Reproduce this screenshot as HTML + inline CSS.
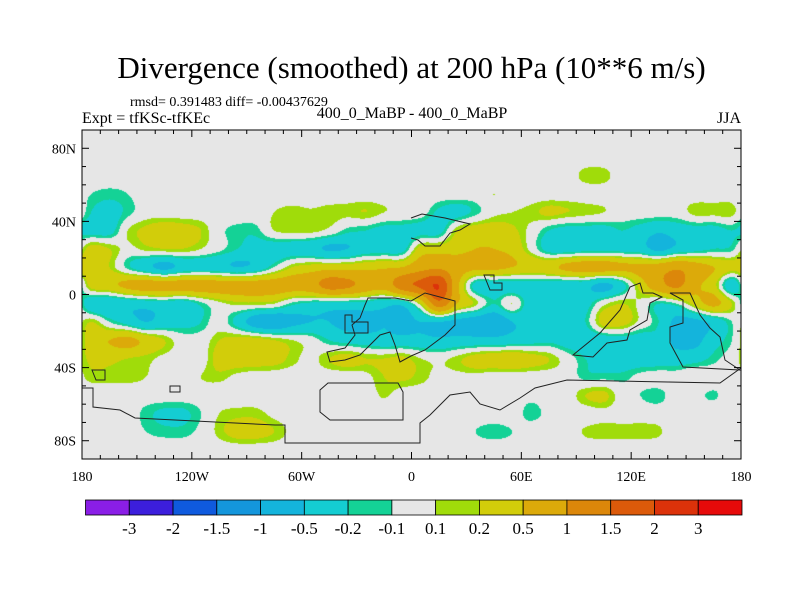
<!DOCTYPE html>
<html><head><meta charset="utf-8"><style>
body{margin:0;background:#fff;}
#wrap{position:relative;width:800px;height:600px;overflow:hidden;font-family:"Liberation Serif",serif;}
.t{position:absolute;white-space:nowrap;color:#000;}
</style></head><body>
<div id="wrap">
<div class="t" style="left:0;width:823px;text-align:center;top:50px;font-size:31px;">Divergence (smoothed) at 200 hPa (10**6 m/s)</div>
<div class="t" style="left:130px;top:95px;font-size:14px;">rmsd= 0.391483 diff= -0.00437629</div>
<div class="t" style="left:82px;top:110px;font-size:16px;">Expt = tfKSc-tfKEc</div>
<div class="t" style="left:312px;width:200px;text-align:center;top:105px;font-size:16px;">400_0_MaBP - 400_0_MaBP</div>
<div class="t" style="right:59px;top:110px;font-size:16px;">JJA</div>
<canvas id="map" width="659" height="329" style="position:absolute;left:82px;top:130px;"></canvas>
<svg id="svg" width="800" height="600" style="position:absolute;left:0;top:0;"></svg>
</div>
<script>
const lons=[-175,-165,-155,-145,-135,-125,-115,-105,-95,-85,-75,-65,-55,-45,-35,-25,-15,-5,5,15,25,35,45,55,65,75,85,95,105,115,125,135,145,155,165,175];
const lats=[85,75,65,55,45,35,25,15,5,-5,-15,-25,-35,-45,-55,-65,-75,-85];
const r85=[0,0,0,0,0,0,0,0,0,0,0,0,0,0,0,0,0,0, 0,0,0,0,0,0,0,0,0,0,0,0,0,0,0,0,0,0];
const r75=[0,0,0,0,0,0,0,0,0,0,0,0,0,0,0,0,0,0, 0,0,0,0,0,0,0,0,0,0,0,0,0,0,0,0,0,0];
const r65=[0,0,0,0,0,0,0,0,0,0,0,0,0,0,0,0,0,0, 0,0,0,0,0,0,0,0,0,0.15,0.15,0,0,0,0,0,0,0];
const r55=[-0.1,-0.15,-0.1,0,0,0,0,0,0,0,0,0,0,0,0,0,0,0, 0,0,0,0,0.1,0,0,0,0,0,0,0,0,0,0,0,0,0];
const r45=[-0.2,-0.3,-0.15,0,0,0,0,0,0,0,0.1,0.15,0.12,0.15,0.15,0.2,0.1,0.05, 0,-0.25,-0.3,-0.15,0.05,0.1,0.15,0.25,0.2,0.15,0.1,0,0,0,0,0.15,0.15,0.15];
const r35=[-0.3,-0.3,0.1,0.25,0.35,0.3,0.2,-0.05,-0.15,-0.15,0.1,0.15,0.15,0.05,-0.15,-0.2,-0.3,-0.3, -0.3,-0.3,0.2,0.35,0.35,0.25,0.05,-0.2,-0.3,-0.3,-0.3,-0.2,-0.3,-0.45,-0.35,-0.3,-0.3,-0.2];
const r25=[0.3,0.2,0.05,0.15,0.2,0.2,0.1,-0.05,-0.2,-0.3,-0.35,-0.35,-0.4,-0.55,-0.5,-0.35,-0.35,-0.3, 0.3,0.35,0.4,0.5,0.5,0.4,0.05,-0.3,-0.35,-0.3,-0.3,-0.3,-0.35,-0.6,-0.4,-0.3,-0.2,-0.15];
const r15=[0.35,0.2,-0.15,-0.4,-0.6,-0.4,-0.35,-0.4,-0.5,-0.4,-0.1,0.2,0.3,0.35,0.35,0.4,0.45,0.5, 0.8,0.9,0.7,0.6,0.6,0.5,0.4,0.4,0.6,0.7,0.7,0.6,0.6,0.7,0.9,0.7,0.5,0.3];
const r5=[0.3,0.4,0.6,0.7,0.7,0.7,0.7,0.7,0.7,0.7,0.7,0.7,0.8,1.2,1.1,0.8,0.7,1.3, 1.6,2.0,0.6,-0.3,-0.35,-0.35,-0.35,-0.35,-0.4,-0.4,-0.6,-0.3,0.3,0.8,1.1,0.6,0.3,-0.4];
const rm5=[-0.4,-0.45,-0.4,-0.35,-0.3,-0.35,-0.15,0.05,0.15,0.15,0.1,-0.15,-0.25,-0.3,-0.3,-0.3,-0.4,-0.4, 0.2,1.3,0.5,0.15,-0.2,0.1,-0.35,-0.35,-0.3,-0.3,0.05,0.2,0.05,-0.2,-0.1,0.3,0.6,0.2];
const rm15=[0.2,-0.1,-0.3,-0.5,-0.35,-0.3,-0.2,0,-0.3,-0.7,-0.8,-0.6,-0.5,-0.5,-0.6,-0.6,-0.5,-0.6, -0.5,-0.5,-0.6,-0.7,-0.8,-0.5,-0.45,-0.4,-0.4,-0.2,0.3,0.3,0.05,-0.2,-0.6,-0.6,-0.4,-0.1];
const rm25=[0.35,0.5,0.6,0.4,0.2,0,0,0.2,0.3,0.3,0.2,0.1,0,-0.2,-0.3,-0.35,-0.4,-0.4, -0.4,-0.45,-0.4,-0.4,-0.4,-0.35,-0.3,-0.25,-0.35,-0.4,-0.35,-0.3,-0.35,-0.3,-0.6,-0.6,-0.3,-0.1];
const rm35=[0.25,0.25,0.2,0.15,0.05,0,0,0.3,0.35,0.35,0.3,0.15,0.05,0.2,0.3,0.2,0.2,0.25, 0.1,0.05,0.15,0.3,0.35,0.4,0.3,0.2,0,-0.2,-0.3,-0.35,-0.35,-0.35,-0.35,-0.3,-0.15,0];
const rm45=[0.15,0.15,0.15,0.1,0,0,0.1,0.15,0.05,0,0,0,0,0,0,0.05,0.2,0.25, 0.15,0.05,0.05,0.05,0,0,0,0,0,-0.15,-0.15,-0.15,-0.05,0,0,0.08,0,0];
const rm55=[0,0,0,0,0,0,0,0,0,0,0,0,0,0,0,0,0.12,0, 0,0,0,0,0,0,-0.05,0,0,0.2,0.25,0,-0.1,-0.15,0,-0.05,-0.12,0];
const rm65=[0,0,0,-0.15,-0.25,-0.25,-0.1,0.1,0.15,0.15,0.05,0,0,0,0,0,0,0, 0,0,0,0,0,0,-0.15,-0.05,0,0,0.05,0,0,0,0,0,0,0];
const rm75=[0,0,0,-0.1,-0.15,-0.15,-0.05,0.15,0.3,0.3,0.2,0.05,0,0,0,0,0,0, 0,0,0,-0.1,-0.15,-0.1,0,0,0,0.12,0.15,0.15,0.15,0.12,0,0,0,0];
const rm85=[0,0,0,0,0,0,0,0,0,0,0,0,0,0,0,0,0,0, 0,0,0,0,0,0,0,0,0,0,0,0,0,0,0,0,0,0];
const grid=[r85,r75,r65,r55,r45,r35,r25,r15,r5,rm5,rm15,rm25,rm35,rm45,rm55,rm65,rm75,rm85];
const levels=[-3,-2,-1.5,-1,-0.5,-0.2,-0.1,0.1,0.2,0.5,1,1.5,2,3];
const levelLabels=["-3","-2","-1.5","-1","-0.5","-0.2","-0.1","0.1","0.2","0.5","1","1.5","2","3"];
const colors=["#8a1ee6","#3c1edc","#0f5ade","#1496dc","#14b4dc","#14cdd2","#14d296","#e6e6e6","#a0dc0a","#d2cd0a","#dcaa0a","#dc870a","#dc5a0a","#dc320a","#e60a0a"];
const xTickVals=[-180,-120,-60,0,60,120,180];
const xTickLabels=["180","120W","60W","0","60E","120E","180"];
const yTickVals=[80,40,0,-40,-80];
const yTickLabels=["80N","40N","0","40S","80S"];

const PL=82,PR=741,PT=130,PB=459;
const xS=lon=>PL+(lon+180)/360*(PR-PL);
const yS=lat=>PT+(90-lat)/180*(PB-PT);
function hex(c){return [parseInt(c.substr(1,2),16),parseInt(c.substr(3,2),16),parseInt(c.substr(5,2),16)];}
function cr(p0,p1,p2,p3,t){return 0.5*((2*p1)+(-p0+p2)*t+(2*p0-5*p1+4*p2-p3)*t*t+(-p0+3*p1-3*p2+p3)*t*t*t);}
(function(){
 const cv=document.getElementById('map');const ctx=cv.getContext('2d');
 const W=cv.width,H=cv.height;const img=ctx.createImageData(W,H);
 const nx=lons.length,ny=lats.length;
 const rgb=colors.map(hex);
 const G=(j,i)=>grid[Math.max(0,Math.min(ny-1,j))][(i%nx+nx)%nx];
 for(let py=0;py<H;py++){
  const lat=90-(py+0.5)/H*180;
  let fy=(lats[0]-lat)/10;fy=Math.max(0,Math.min(ny-1,fy));
  const j0=Math.min(ny-2,Math.floor(fy)),ty=fy-j0;
  for(let px=0;px<W;px++){
   const lon=-180+(px+0.5)/W*360;
   const fx=(lon-lons[0])/10;
   const i0=Math.floor(fx),tx=fx-i0;
   const rows=[];
   for(let dj=-1;dj<=2;dj++){const j=j0+dj;rows.push(cr(G(j,i0-1),G(j,i0),G(j,i0+1),G(j,i0+2),tx));}
   const v=cr(rows[0],rows[1],rows[2],rows[3],ty);
   let k=0;while(k<levels.length&&v>=levels[k])k++;
   const col=rgb[k];const o=(py*W+px)*4;
   img.data[o]=col[0];img.data[o+1]=col[1];img.data[o+2]=col[2];img.data[o+3]=255;
  }
 }
 ctx.putImageData(img,0,0);
})();
const svg=document.getElementById('svg');const NS="http://www.w3.org/2000/svg";
function mk(tag,attrs){const e=document.createElementNS(NS,tag);for(const k in attrs)e.setAttribute(k,attrs[k]);svg.appendChild(e);return e;}
const coastPaths=[
 "M82,388 L93,388 L93,407 L120,410 L135,418 L175,420 L275,425 L285,425 L285,443 L420,443 L420,423 L430,415 L440,405 L450,395 L470,392 L480,404 L500,410 L520,398 L535,388 L567,380 L720,383 L741,368",
 "M320,390 L328,383 L398,383 L403,392 L403,420 L330,420 L320,412 Z",
 "M411,218 L422,214 L445,218 L470,224 L460,230 L450,233 L440,246 L425,246 L418,240 L411,238",
 "M368,298 L395,298 L411,301 L425,293 L455,301 L455,325 L445,335 L425,350 L411,356 L400,362 L395,345 L390,332 L380,335 L370,345 L360,355 L345,360 L330,362 L327,352 L345,348 L355,335 L352,325 L360,318 L365,305 Z",
 "M345,315 L352,315 L352,322 L368,322 L368,333 L345,333 Z",
 "M573,355 L600,333 L620,310 L630,287 L640,283 L643,293 L653,293 L662,297 L650,303 L647,320 L630,330 L627,340 L607,343 L593,357 Z",
 "M670,293 L690,293 L700,315 L710,328 L720,337 L725,360 L740,370 L683,367 L670,343 L670,327 L683,323 L683,300 Z",
 "M484,275 L494,275 L494,283 L502,283 L502,290 L490,290 Z",
 "M92,370 L105,370 L105,380 L96,380 Z",
 "M170,386 L180,386 L180,392 L170,392 Z"
];
coastPaths.forEach((d,i)=>{const p=mk('path',{d:d,fill:'none',stroke:'#222','stroke-width':'1'});

});
const fr=mk('rect',{x:PL,y:PT,width:PR-PL,height:PB-PT,fill:'none',stroke:'#000','stroke-width':'1'});


for(let lon=-170;lon<180;lon+=10){const x=xS(lon);const big=xTickVals.includes(lon);const L=big?7:4;
 mk('line',{x1:x,y1:PT,x2:x,y2:PT+L,stroke:'#000'});mk('line',{x1:x,y1:PB,x2:x,y2:PB-L,stroke:'#000'});}
for(let lat=-80;lat<=80;lat+=10){const y=yS(lat);const big=yTickVals.includes(lat);const L=big?7:4;
 mk('line',{x1:PL,y1:y,x2:PL+L,y2:y,stroke:'#000'});mk('line',{x1:PR,y1:y,x2:PR-L,y2:y,stroke:'#000'});}
xTickVals.forEach((v,i)=>{const t=mk('text',{x:xS(v),y:481,'text-anchor':'middle','font-family':'Liberation Serif, serif','font-size':'14'});t.textContent=xTickLabels[i];

});
yTickVals.forEach((v,i)=>{const t=mk('text',{x:76,y:yS(v)+5,'text-anchor':'end','font-family':'Liberation Serif, serif','font-size':'14'});t.textContent=yTickLabels[i];

});
const CB0=85.5,CB1=742,CBT=500,CBH=15,bw=(CB1-CB0)/colors.length;
colors.forEach((c,i)=>{const r=mk('rect',{x:CB0+i*bw,y:CBT,width:bw,height:CBH,fill:c,stroke:'#000','stroke-width':'0.8'});

});
levelLabels.forEach((l,i)=>{const t=mk('text',{x:CB0+(i+1)*bw,y:534,'text-anchor':'middle','font-family':'Liberation Serif, serif','font-size':'17'});t.textContent=l;

});
</script>
</body></html>
